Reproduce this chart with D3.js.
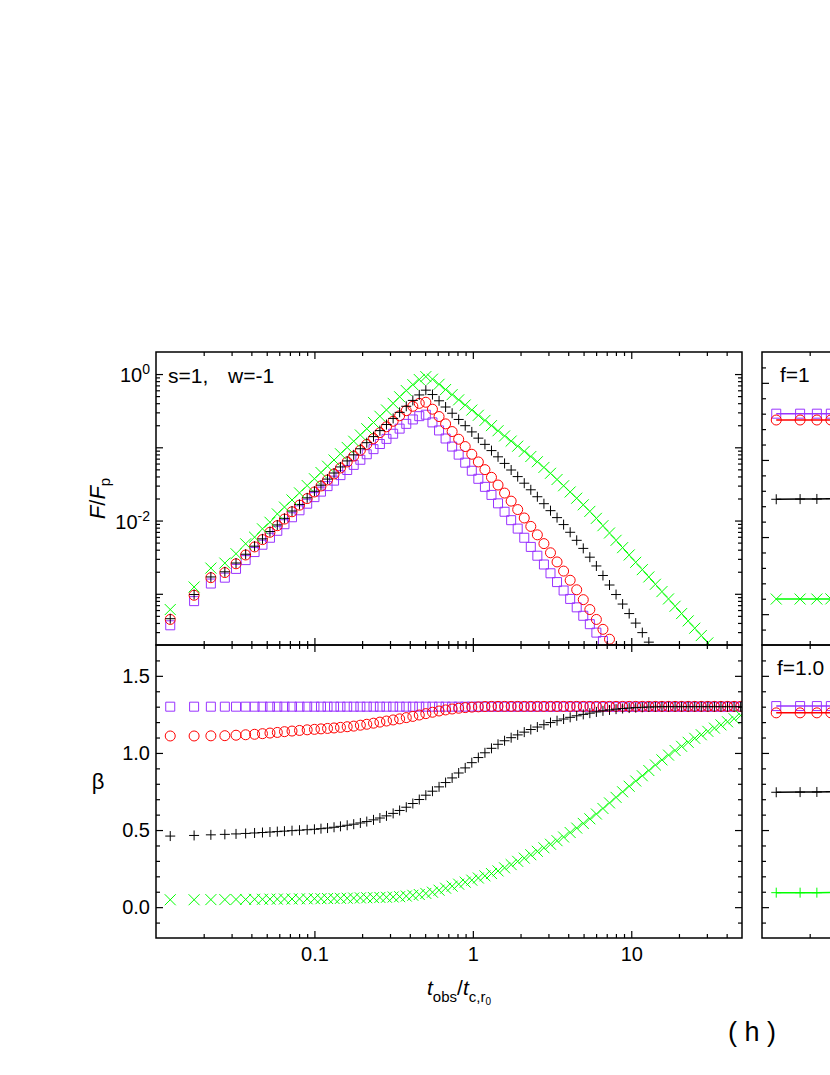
<!DOCTYPE html>
<html>
<head>
<meta charset="utf-8">
<script src="https://cdn.jsdelivr.net/npm/d3@7"></script>
<style>
body { margin: 0; background: #fff; }
text { font-family: "Liberation Sans", Arial, sans-serif; fill: #000; }
</style>
</head>
<body>
<div id="chart"></div>
<script>
// observer times t_obs / t_c,r0 (same grid for every curve)
const tGrid = [0.0123, 0.0174, 0.0222, 0.0272, 0.0320, 0.0368, 0.0419, 0.0470, 0.0524, 0.0583,
	0.0647, 0.0722, 0.0805, 0.0900, 0.100, 0.110, 0.121, 0.133, 0.146, 0.161,
	0.177, 0.195, 0.214, 0.236, 0.259, 0.285, 0.314, 0.345, 0.380, 0.418,
	0.459, 0.505, 0.556, 0.612, 0.673, 0.740, 0.814, 0.895, 0.985, 1.083,
	1.192, 1.311, 1.442, 1.586, 1.745, 1.919, 2.111, 2.322, 2.554, 2.810,
	3.091, 3.400, 3.740, 4.114, 4.525, 4.978, 5.476, 6.023, 6.626, 7.288,
	8.017, 8.819, 9.701, 10.67, 11.74, 12.91, 14.20, 15.62, 17.18, 18.90,
	20.79, 22.87, 25.16, 27.67, 30.44, 33.49, 36.83, 40.52, 44.57, 49.03];

// log10(F/Fp), upper left panel
const logFluxSquare = [-3.430, -3.100, -2.860, -2.780, -2.660, -2.540, -2.430, -2.330, -2.235, -2.140,
	-2.050, -1.955, -1.860, -1.770, -1.680, -1.605, -1.530, -1.455, -1.380, -1.310,
	-1.240, -1.170, -1.095, -1.025, -0.955, -0.885, -0.815, -0.745, -0.680, -0.620,
	-0.575, -0.555, -0.660, -0.770, -0.880, -0.990, -1.100, -1.210, -1.320, -1.430,
	-1.540, -1.650, -1.765, -1.880, -1.995, -2.110, -2.235, -2.360, -2.480, -2.600,
	-2.720, -2.840, -2.955, -3.070, -3.185, -3.300, -3.415, -3.530, -3.645, -3.760];
const logFluxCircle = [-3.350, -3.020, -2.780, -2.710, -2.590, -2.470, -2.360, -2.260, -2.160, -2.070,
	-1.980, -1.880, -1.790, -1.700, -1.610, -1.528, -1.446, -1.364, -1.282, -1.200,
	-1.120, -1.040, -0.960, -0.880, -0.800, -0.720, -0.645, -0.570, -0.500, -0.440,
	-0.400, -0.385, -0.480, -0.580, -0.680, -0.785, -0.890, -0.990, -1.095, -1.200,
	-1.305, -1.410, -1.515, -1.625, -1.735, -1.850, -1.965, -2.080, -2.195, -2.315,
	-2.440, -2.565, -2.690, -2.815, -2.945, -3.080, -3.215, -3.350, -3.485, -3.620,
	-3.755];
const logFluxPlus = [-3.340, -3.010, -2.770, -2.700, -2.580, -2.460, -2.350, -2.250, -2.150, -2.060,
	-1.970, -1.870, -1.780, -1.690, -1.600, -1.517, -1.434, -1.351, -1.268, -1.186,
	-1.103, -1.020, -0.937, -0.854, -0.772, -0.689, -0.606, -0.523, -0.440, -0.360,
	-0.285, -0.220, -0.280, -0.365, -0.450, -0.535, -0.620, -0.705, -0.790, -0.875,
	-0.960, -1.045, -1.130, -1.220, -1.310, -1.400, -1.490, -1.580, -1.675, -1.770,
	-1.865, -1.960, -2.055, -2.160, -2.270, -2.380, -2.500, -2.620, -2.750, -2.880,
	-3.010, -3.140, -3.270, -3.400, -3.530, -3.660, -3.790];
const logFluxCross = [-3.215, -2.907, -2.649, -2.581, -2.453, -2.317, -2.227, -2.113, -2.023, -1.909,
	-1.816, -1.719, -1.622, -1.522, -1.429, -1.344, -1.258, -1.173, -1.088, -1.002,
	-0.917, -0.832, -0.746, -0.661, -0.576, -0.490, -0.400, -0.310, -0.225, -0.145,
	-0.075, -0.035, -0.070, -0.140, -0.211, -0.281, -0.352, -0.422, -0.492, -0.563,
	-0.633, -0.704, -0.774, -0.845, -0.915, -0.985, -1.056, -1.126, -1.197, -1.275,
	-1.355, -1.440, -1.525, -1.610, -1.695, -1.785, -1.875, -1.970, -2.070, -2.170,
	-2.270, -2.370, -2.470, -2.570, -2.670, -2.770, -2.870, -2.970, -3.070, -3.170,
	-3.270, -3.370, -3.470, -3.570, -3.670, -3.770];

// beta, lower left panel
const betaSquare = [1.300, 1.300, 1.300, 1.300, 1.300, 1.300, 1.300, 1.300, 1.300, 1.300,
	1.300, 1.300, 1.300, 1.300, 1.300, 1.300, 1.300, 1.300, 1.300, 1.300,
	1.300, 1.300, 1.300, 1.300, 1.300, 1.300, 1.300, 1.300, 1.300, 1.300,
	1.300, 1.300, 1.300, 1.300, 1.300, 1.300, 1.300, 1.300, 1.300, 1.300,
	1.300, 1.300, 1.300, 1.300, 1.300, 1.300, 1.300, 1.300, 1.300, 1.300,
	1.300, 1.300, 1.300, 1.300, 1.300, 1.300, 1.300, 1.300, 1.300, 1.300,
	1.300, 1.300, 1.300, 1.300, 1.300, 1.300, 1.300, 1.300, 1.300, 1.300,
	1.300, 1.300, 1.300, 1.300, 1.300, 1.300, 1.300, 1.300, 1.300, 1.300];
const betaCircle = [1.110, 1.110, 1.111, 1.112, 1.115, 1.118, 1.121, 1.125, 1.129, 1.133,
	1.138, 1.142, 1.146, 1.150, 1.153, 1.156, 1.159, 1.162, 1.166, 1.170,
	1.174, 1.180, 1.186, 1.193, 1.200, 1.207, 1.214, 1.221, 1.229, 1.237,
	1.246, 1.255, 1.264, 1.272, 1.279, 1.285, 1.290, 1.294, 1.297, 1.299,
	1.301, 1.302, 1.302, 1.302, 1.302, 1.302, 1.302, 1.302, 1.302, 1.302,
	1.302, 1.302, 1.302, 1.302, 1.302, 1.302, 1.302, 1.302, 1.302, 1.302,
	1.302, 1.302, 1.302, 1.302, 1.302, 1.302, 1.302, 1.302, 1.302, 1.302,
	1.302, 1.302, 1.302, 1.302, 1.302, 1.302, 1.302, 1.302, 1.302, 1.302];
const betaPlus = [0.461, 0.465, 0.469, 0.472, 0.475, 0.478, 0.481, 0.484, 0.487, 0.490,
	0.493, 0.496, 0.499, 0.502, 0.505, 0.509, 0.513, 0.518, 0.524, 0.531,
	0.538, 0.546, 0.555, 0.566, 0.578, 0.592, 0.608, 0.627, 0.648, 0.672,
	0.698, 0.726, 0.752, 0.780, 0.808, 0.838, 0.870, 0.903, 0.937, 0.970,
	1.001, 1.030, 1.056, 1.079, 1.099, 1.117, 1.135, 1.152, 1.168, 1.183,
	1.197, 1.209, 1.220, 1.231, 1.241, 1.250, 1.258, 1.266, 1.273, 1.279,
	1.284, 1.288, 1.291, 1.294, 1.296, 1.298, 1.299, 1.300, 1.300, 1.300,
	1.300, 1.300, 1.300, 1.300, 1.300, 1.300, 1.300, 1.300, 1.300, 1.300];
const betaCross = [0.048, 0.048, 0.049, 0.049, 0.050, 0.050, 0.051, 0.051, 0.052, 0.052,
	0.053, 0.053, 0.054, 0.054, 0.055, 0.055, 0.056, 0.056, 0.057, 0.058,
	0.059, 0.060, 0.061, 0.062, 0.063, 0.064, 0.066, 0.068, 0.072, 0.077,
	0.082, 0.089, 0.097, 0.110, 0.123, 0.136, 0.149, 0.162, 0.175, 0.189,
	0.203, 0.218, 0.235, 0.255, 0.276, 0.297, 0.318, 0.340, 0.362, 0.385,
	0.408, 0.431, 0.455, 0.484, 0.513, 0.543, 0.573, 0.604, 0.640, 0.676,
	0.712, 0.748, 0.784, 0.818, 0.852, 0.886, 0.922, 0.955, 0.986, 1.016,
	1.043, 1.069, 1.095, 1.118, 1.140, 1.161, 1.182, 1.202, 1.222, 1.243];

// right column (only its left edge is in the picture)
const f1Square = [1.300, 1.300, 1.300, 1.300, 1.300];
const f1Circle = [1.259, 1.259, 1.259, 1.259, 1.260];
const f1Plus = [0.745, 0.746, 0.747, 0.749, 0.751];
const f1Cross = [0.098, 0.098, 0.098, 0.099, 0.099];
const f105Square = [1.304, 1.304, 1.304, 1.304, 1.304];
const f105Circle = [1.260, 1.260, 1.260, 1.260, 1.261];
const f105Plus = [0.745, 0.746, 0.747, 0.749, 0.751];
const f105GreenPlus = [0.094, 0.094, 0.094, 0.095, 0.095];

// ticks and labels
const xMajor = [0.1, 1, 10];
const xTickLabels = ["0.1", "1", "10"];
const xMinor = [0.02, 0.03, 0.04, 0.05, 0.06, 0.07, 0.08, 0.09, 0.2, 0.3, 0.4, 0.5, 0.6, 0.7, 0.8, 0.9,
	2, 3, 4, 5, 6, 7, 8, 9, 20, 30, 40];
const fluxMajor = [0.001, 0.01, 0.1, 1];
const fluxMinor = [3e-4, 4e-4, 5e-4, 6e-4, 7e-4, 8e-4, 9e-4, 2e-3, 3e-3, 4e-3, 5e-3, 6e-3, 7e-3, 8e-3, 9e-3,
	0.02, 0.03, 0.04, 0.05, 0.06, 0.07, 0.08, 0.09, 0.2, 0.3, 0.4, 0.5, 0.6, 0.7, 0.8, 0.9];
const fluxLabelValues = [1, 0.01];
const fluxLabelExp = ["0", "-2"];
const betaMajor = [0, 0.5, 1.0, 1.5];
const betaTickLabels = ["0.0", "0.5", "1.0", "1.5"];
const betaMinor = [-0.1, 0.1, 0.2, 0.3, 0.4, 0.6, 0.7, 0.8, 0.9, 1.1, 1.2, 1.3, 1.4, 1.6];

var colors = { square: "#9933ff", circle: "#ff0000", plus: "#000000", cross: "#00ff00" };

var panelW = 586, panelH = 293;
var leftX = 156, rightX = 762, topY = 352, midY = 645, botY = midY + panelH;

var svg = d3.select("#chart").append("svg")
	.attr("width", 830)
	.attr("height", 1075)
	.style("background", "#fff");

var xLeft = d3.scaleLog().domain([0.01, 50]).range([leftX, leftX + panelW]);
var xRight = d3.scaleLog().domain([0.01, 50]).range([rightX, rightX + panelW]);
var yFlux = d3.scaleLog().domain([2e-4, 2]).range([midY, topY]);
var yBetaUpper = d3.scaleLinear().domain([-0.2, 1.7]).range([midY, topY]);
var yBetaLower = d3.scaleLinear().domain([-0.2, 1.7]).range([botY, midY]);

var defs = svg.append("defs");
function clipFor(id, x0, y0) {
	defs.append("clipPath").attr("id", id).append("rect")
		.attr("x", x0).attr("y", y0).attr("width", panelW).attr("height", panelH);
	return svg.append("g").attr("clip-path", "url(#" + id + ")");
}

var shapes = {
	plus: "M-5,0H5M0,-5V5",
	cross: "M-5.5,-5.5L5.5,5.5M-5.5,5.5L5.5,-5.5",
	square: "M-4.5,-4.5H4.5V4.5H-4.5Z"
};

function drawSeries(g, ys, xs, sy, shape, color, withLine) {
	var pts = ys.map(function(v, i) { return [xs(tGrid[i]), sy(v)]; });
	if (withLine) {
		g.append("path")
			.attr("d", d3.line()(pts))
			.attr("fill", "none")
			.attr("stroke", color)
			.attr("stroke-width", 1.5);
	}
	var sel = g.selectAll(null).data(pts).enter();
	var marks;
	if (shape == "circle") {
		marks = sel.append("circle")
			.attr("cx", function(d) { return d[0]; })
			.attr("cy", function(d) { return d[1]; })
			.attr("r", 5);
	} else {
		marks = sel.append("path")
			.attr("d", shapes[shape])
			.attr("transform", function(d) { return "translate(" + d[0] + "," + d[1] + ")"; });
	}
	marks.attr("fill", "none").attr("stroke", color).attr("stroke-width", 1);
}

function pow10(arr) { return arr.map(function(v) { return Math.pow(10, v); }); }

// upper left: flux
var gTL = clipFor("clipTL", leftX, topY);
drawSeries(gTL, pow10(logFluxSquare), xLeft, yFlux, "square", colors.square, false);
drawSeries(gTL, pow10(logFluxCircle), xLeft, yFlux, "circle", colors.circle, false);
drawSeries(gTL, pow10(logFluxPlus), xLeft, yFlux, "plus", colors.plus, false);
drawSeries(gTL, pow10(logFluxCross), xLeft, yFlux, "cross", colors.cross, false);

// lower left: beta
var gBL = clipFor("clipBL", leftX, midY);
drawSeries(gBL, betaSquare, xLeft, yBetaLower, "square", colors.square, false);
drawSeries(gBL, betaCircle, xLeft, yBetaLower, "circle", colors.circle, false);
drawSeries(gBL, betaPlus, xLeft, yBetaLower, "plus", colors.plus, false);
drawSeries(gBL, betaCross, xLeft, yBetaLower, "cross", colors.cross, false);

// right column
var gTR = clipFor("clipTR", rightX, topY);
drawSeries(gTR, f1Square, xRight, yBetaUpper, "square", colors.square, true);
drawSeries(gTR, f1Circle, xRight, yBetaUpper, "circle", colors.circle, true);
drawSeries(gTR, f1Plus, xRight, yBetaUpper, "plus", colors.plus, true);
drawSeries(gTR, f1Cross, xRight, yBetaUpper, "cross", colors.cross, true);

var gBR = clipFor("clipBR", rightX, midY);
drawSeries(gBR, f105Square, xRight, yBetaLower, "square", colors.square, true);
drawSeries(gBR, f105Circle, xRight, yBetaLower, "circle", colors.circle, true);
drawSeries(gBR, f105Plus, xRight, yBetaLower, "plus", colors.plus, true);
drawSeries(gBR, f105GreenPlus, xRight, yBetaLower, "plus", colors.cross, true);

function ticks(axis, tx, ty, values, len) {
	svg.append("g")
		.attr("transform", "translate(" + tx + "," + ty + ")")
		.call(axis.tickValues(values).tickSize(-len).tickFormat(""))
		.call(function(g) {
			g.select(".domain").remove();
			g.selectAll("line").attr("stroke", "#000").attr("stroke-width", 1.2);
		});
}

function panelTicks(xs, ys, x0, y0, yMaj, yMin) {
	var x1 = x0 + panelW, y1 = y0 + panelH;
	ticks(d3.axisBottom(xs), 0, y1, xMajor, 7);
	ticks(d3.axisBottom(xs), 0, y1, xMinor, 4);
	ticks(d3.axisTop(xs), 0, y0, xMajor, 7);
	ticks(d3.axisTop(xs), 0, y0, xMinor, 4);
	ticks(d3.axisLeft(ys), x0, 0, yMaj, 7);
	ticks(d3.axisLeft(ys), x0, 0, yMin, 4);
	ticks(d3.axisRight(ys), x1, 0, yMaj, 7);
	ticks(d3.axisRight(ys), x1, 0, yMin, 4);
	svg.append("rect")
		.attr("x", x0).attr("y", y0)
		.attr("width", panelW).attr("height", panelH)
		.attr("fill", "none")
		.attr("stroke", "#000")
		.attr("stroke-width", 1.5);
}

panelTicks(xLeft, yFlux, leftX, topY, fluxMajor, fluxMinor);
panelTicks(xLeft, yBetaLower, leftX, midY, betaMajor, betaMinor);
panelTicks(xRight, yBetaUpper, rightX, topY, betaMajor, betaMinor);
panelTicks(xRight, yBetaLower, rightX, midY, betaMajor, betaMinor);

// tick labels
svg.append("g")
	.attr("transform", "translate(0," + botY + ")")
	.call(d3.axisBottom(xLeft).tickValues(xMajor).tickSize(0).tickPadding(9)
		.tickFormat(function(d, i) { return xTickLabels[i]; }))
	.call(function(g) { g.select(".domain").remove(); })
	.attr("font-size", 20)
	.attr("font-family", "Liberation Sans, Arial, sans-serif");

svg.append("g")
	.attr("transform", "translate(" + leftX + ",0)")
	.call(d3.axisLeft(yBetaLower).tickValues(betaMajor).tickSize(0).tickPadding(6)
		.tickFormat(function(d, i) { return betaTickLabels[i]; }))
	.call(function(g) { g.select(".domain").remove(); })
	.attr("font-size", 20)
	.attr("font-family", "Liberation Sans, Arial, sans-serif");

fluxLabelValues.forEach(function(v, i) {
	var t = svg.append("text")
		.attr("x", 150)
		.attr("y", yFlux(v) + 8)
		.attr("text-anchor", "end")
		.attr("font-size", 20);
	t.append("tspan").text("10");
	t.append("tspan").attr("font-size", 14).attr("dy", -8).text(fluxLabelExp[i]);
});

// panel annotations
var note = svg.append("text").attr("y", 383).attr("font-size", 21);
note.append("tspan").attr("x", 168).text("s=1,");
note.append("tspan").attr("x", 228).text("w=-1");
svg.append("text").attr("x", 780).attr("y", 382).attr("font-size", 21).text("f=1");
svg.append("text").attr("x", 777).attr("y", 675).attr("font-size", 21).text("f=1.0");

// axis titles
var yt = svg.append("text")
	.attr("transform", "translate(105," + ((topY + midY) / 2) + ") rotate(-90)")
	.attr("text-anchor", "middle")
	.attr("font-size", 22);
yt.append("tspan").attr("font-style", "italic").text("F");
yt.append("tspan").text("/");
yt.append("tspan").attr("font-style", "italic").text("F");
yt.append("tspan").attr("font-size", 15).attr("dy", 5).text("p");

svg.append("text")
	.attr("x", 98)
	.attr("y", (midY + botY) / 2 - 3)
	.attr("text-anchor", "middle")
	.attr("font-size", 22)
	.text("β");

var xt = svg.append("text").attr("x", 427).attr("y", 995).attr("font-size", 21);
xt.append("tspan").attr("font-style", "italic").text("t");
xt.append("tspan").attr("font-size", 15).attr("dy", 7).text("obs");
xt.append("tspan").attr("dy", -7).text("/");
xt.append("tspan").attr("font-style", "italic").text("t");
xt.append("tspan").attr("font-size", 15).attr("dy", 7).text("c,r");
xt.append("tspan").attr("font-size", 10).attr("dy", 3).text("0");

svg.append("text").attr("x", 728).attr("y", 1041).attr("font-size", 27).text("( h )");
</script>
</body>
</html>
